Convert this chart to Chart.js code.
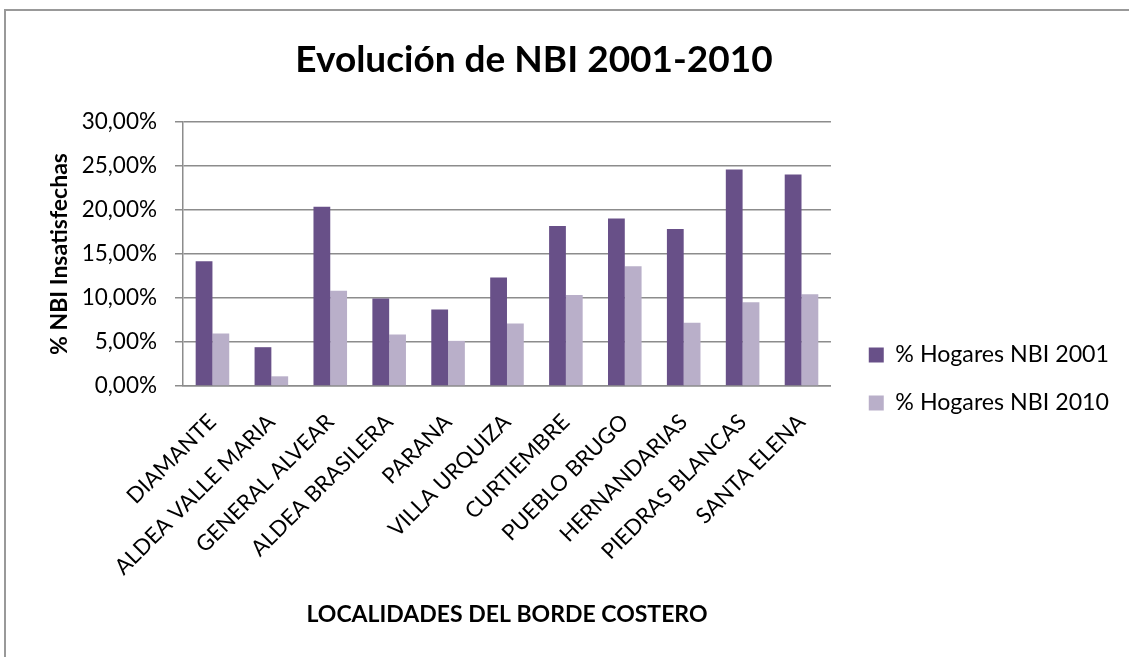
<!DOCTYPE html>
<html>
<head>
<meta charset="utf-8">
<script src="https://cdn.jsdelivr.net/npm/chart.js@4.4.0/dist/chart.umd.min.js"></script>
<style>
  html, body { margin: 0; padding: 0; background: #fff; overflow: hidden; }
  #frame { position: absolute; left: 4px; top: 9px; width: 1200px; height: 720px; border: 2px solid #999; box-sizing: border-box; }
  #chart { position: absolute; left: 0; top: 0; }
</style>
</head>
<body>
<div id="frame"></div>
<canvas id="chart" width="1129" height="657"></canvas>
<script>
// Localidades del borde costero
const categories = ['DIAMANTE', 'ALDEA VALLE MARIA', 'GENERAL ALVEAR', 'ALDEA BRASILERA', 'PARANA',
    'VILLA URQUIZA', 'CURTIEMBRE', 'PUEBLO BRUGO', 'HERNANDARIAS', 'PIEDRAS BLANCAS', 'SANTA ELENA'];

// % de hogares con NBI
const nbi2001 = [14.17, 4.41, 20.36, 9.95, 8.70, 12.34, 18.19, 19.03, 17.85, 24.61, 24.04];
const nbi2010 = [5.96, 1.10, 10.82, 5.85, 5.13, 7.10, 10.33, 13.60, 7.18, 9.53, 10.44];

const seriesLabels = ['% Hogares NBI 2001', '% Hogares NBI 2010'];
const yTicks = [0, 5, 10, 15, 20, 25, 30];

const FONT = 'Lato';
const GRID = '#8c8c8c';

const ctx = document.getElementById('chart').getContext('2d');
new Chart(ctx, {
    type: 'bar',
    data: {
        labels: categories,
        datasets: [
            { label: seriesLabels[0], data: nbi2001, backgroundColor: '#685088' },
            { label: seriesLabels[1], data: nbi2010, backgroundColor: '#b9afc9' }
        ]
    },
    options: {
        responsive: false,
        animation: false,
        // negative left padding so the title centres where the original one sits
        layout: { padding: { left: -51, right: 10, top: 0, bottom: 0 } },
        datasets: { bar: { categoryPercentage: 0.57, barPercentage: 1.0 } },
        scales: {
            x: {
                grid: { display: false },
                border: { display: true, color: GRID, width: 1.5 },
                ticks: {
                    color: '#000', font: { family: FONT, size: 22 },
                    minRotation: 45, maxRotation: 45, autoSkip: false, padding: 15
                },
                title: {
                    display: true, text: 'LOCALIDADES DEL BORDE COSTERO', color: '#000',
                    font: { family: FONT, size: 23, weight: 'bold' }, padding: { top: 0, bottom: 28.7 }
                },
                afterFit: (s) => { s.height = 271; }
            },
            y: {
                min: 0, max: 30,
                afterBuildTicks: (s) => { s.ticks = yTicks.map(v => ({ value: v })); },
                grid: { color: GRID, lineWidth: 1.5, tickLength: 8, tickColor: GRID },
                border: { display: true, color: GRID, width: 1.5 },
                ticks: {
                    color: '#000', font: { family: FONT, size: 22.5 }, padding: 18,
                    callback: (v) => v.toFixed(2).replace('.', ',') + '%'
                },
                title: {
                    display: true, text: '% NBI Insatisfechas', color: '#000',
                    font: { family: FONT, size: 23, weight: 'bold' }, padding: { top: 97.2, bottom: 0 }
                },
                afterFit: (s) => { s.width = 234; }
            },
            // empty spacer between plot and legend
            gap: {
                type: 'linear', position: 'right',
                grid: { display: false }, border: { display: false }, ticks: { display: false },
                afterFit: (s) => { s.width = 13; }
            }
        },
        plugins: {
            title: {
                display: true, text: 'Evolución de NBI 2001-2010', color: '#000',
                font: { family: FONT, size: 37, weight: 'bold' },
                padding: { top: 37.4, bottom: 40.2 }
            },
            legend: {
                position: 'right',
                maxWidth: 276,
                // blank title only pushes the items down
                title: { display: true, text: ' ', font: { size: 10 }, padding: { top: 89, bottom: 0 } },
                labels: {
                    color: '#000', font: { family: FONT, size: 23.2 },
                    boxWidth: 15, boxHeight: 15, padding: 24.8
                }
            },
            tooltip: { enabled: false }
        }
    }
});
</script>
</body>
</html>
